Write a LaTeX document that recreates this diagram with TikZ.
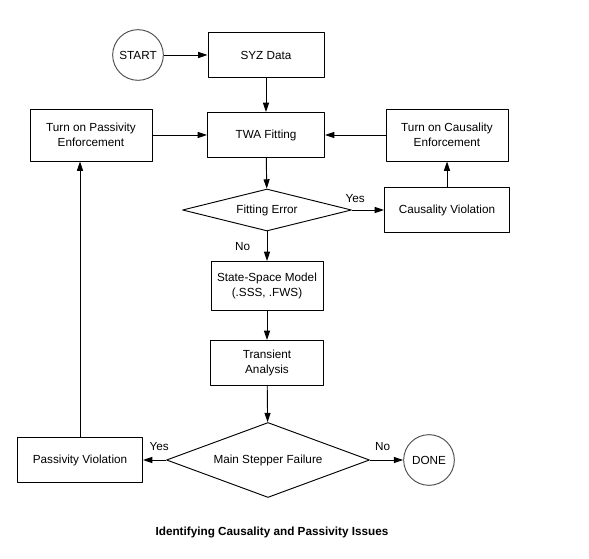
\documentclass[tikz,border=0pt]{standalone}
\usepackage{fontspec}
\setmainfont{Liberation Sans}
\usetikzlibrary{shapes.geometric,arrows.meta}
\begin{document}
\begin{tikzpicture}[x=0.75pt, y=-0.75pt, line join=round, line width=0.7pt,
    >={Triangle[length=7pt,width=4.5pt]},
    every node/.style={font=\fontsize{8.8}{11}\selectfont},
    box/.style={draw, align=center, inner sep=0pt, minimum height=33.75pt},
    decision/.style={draw, diamond, inner sep=0pt},
    terminal/.style={draw=black!70, circle, inner sep=0pt, minimum size=38pt}]
    \useasboundingbox (0,0) rectangle (589,559);
    \node[terminal] (start) at (138,55) {START};
    \node[box, minimum width=87pt] (syz) at (266,55) {SYZ Data};
    \node[box, minimum width=87.75pt] (twa) at (266,135) {TWA Fitting};
    \node[box, minimum width=91.5pt, minimum height=39pt] (tpe) at (91,135) {Turn on Passivity\\Enforcement};
    \node[box, minimum width=91.5pt, minimum height=39pt] (tce) at (447,135) {Turn on Causality\\Enforcement};
    \node[decision, shape aspect=4, minimum width=126.75pt, minimum height=31.5pt] (fe) at (267,210) {Fitting Error};
    \node[box, minimum width=93.75pt] (cv) at (447,210) {Causality Violation};
    \node[box, minimum width=84pt, minimum height=36.75pt] (ssm) at (267,286) {State-Space Model\\(.SSS, .FWS)};
    \node[box, minimum width=84.75pt] (ta) at (267,363) {Transient\\Analysis};
    \node[decision, shape aspect=2.7, minimum width=152.25pt, minimum height=56.25pt] (msf) at (268,460) {Main Stepper Failure};
    \node[box, minimum width=93.75pt] (pv) at (80,460) {Passivity Violation};
    \node[terminal] (done) at (429,460) {DONE};
    \node[font=\bfseries\fontsize{8.8}{11}\selectfont] (caption) at (272,532) {Identifying Causality and Passivity Issues};
    % connectors
    \draw[->] (start) -- (syz);
    \draw[->] (syz) -- (twa);
    \draw[->] (tpe) -- (twa);
    \draw[->] (tce) -- (twa);
    \draw[->] (twa) -- (fe);
    \draw[->] (fe) -- (cv) node[pos=0.1, above=1.5pt] {Yes};
    \draw[->] (cv) -- (tce);
    \draw[->] (fe) -- (ssm) node[midway, left=9pt] {No};
    \draw[->] (ssm) -- (ta);
    \draw[->] (ta) -- (msf);
    \draw[->] (msf) -- (pv) node[pos=0.3, above=3pt] {Yes};
    \draw[->] (msf) -- (done) node[pos=0.38, above=3pt] {No};
    \draw[->] (pv.north) -- (pv.north |- tpe.south);
\end{tikzpicture}
\end{document}
